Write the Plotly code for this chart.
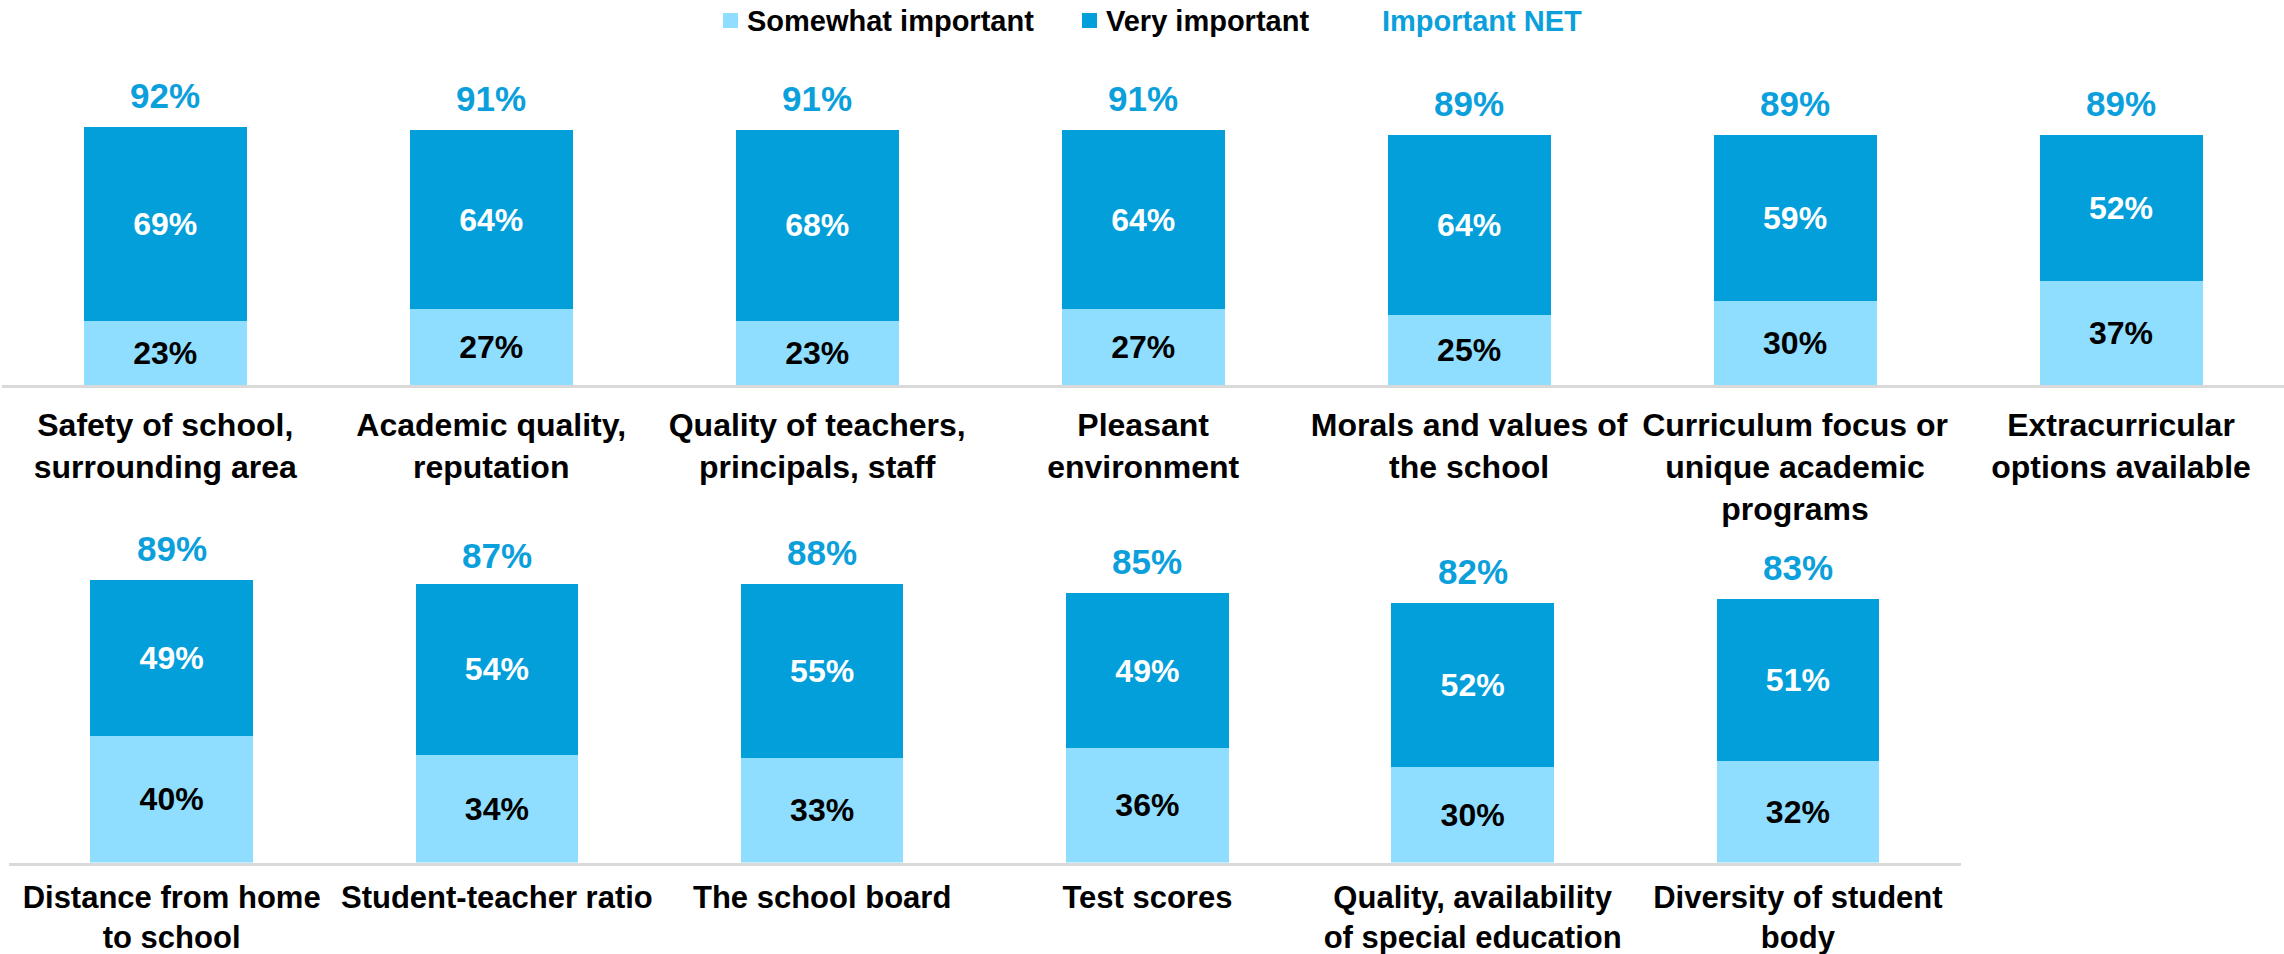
import plotly.graph_objects as go

# ---- data ----
cats_top = [
    "Safety of school,<br>surrounding area",
    "Academic quality,<br>reputation",
    "Quality of teachers,<br>principals, staff",
    "Pleasant<br>environment",
    "Morals and values of<br>the school",
    "Curriculum focus or<br>unique academic<br>programs",
    "Extracurricular<br>options available",
]
somewhat_top = [23, 27, 23, 27, 25, 30, 37]
very_top = [69, 64, 68, 64, 64, 59, 52]
net_top = [92, 91, 91, 91, 89, 89, 89]

cats_bot = [
    "Distance from home<br>to school",
    "Student-teacher ratio",
    "The school board",
    "Test scores",
    "Quality, availability<br>of special education",
    "Diversity of student<br>body",
]
somewhat_bot = [40, 34, 33, 36, 30, 32]
very_bot = [49, 54, 55, 49, 52, 51]
net_bot = [89, 87, 88, 85, 82, 83]

series_names = ["Somewhat important", "Very important", "Important NET"]

LIGHT = "#8FDEFF"
DARK = "#039FDB"
NETC = "#0BA0DC"
FONT = "Liberation Sans, Arial, sans-serif"

W, H = 2284, 954

fig = go.Figure()

def pct(vals):
    return [f"{v}%" for v in vals]

def add_bars(cats, vals, color, tcolor, name, xa, ya):
    fig.add_trace(go.Bar(x=cats, y=vals, name=name,
                         marker=dict(color=color, line=dict(width=0)),
                         text=pct(vals), textposition="inside", insidetextanchor="middle",
                         textfont=dict(family=FONT, size=32, color=tcolor, weight="bold"),
                         xaxis=xa, yaxis=ya, showlegend=False, hoverinfo="x+y"))

add_bars(cats_top, somewhat_top, LIGHT, "black", series_names[0], "x", "y")
add_bars(cats_top, very_top, DARK, "white", series_names[1], "x", "y")
add_bars(cats_bot, somewhat_bot, LIGHT, "black", series_names[0], "x2", "y2")
add_bars(cats_bot, very_bot, DARK, "white", series_names[1], "x2", "y2")

annotations = []
for c, v in zip(cats_top, net_top):
    annotations.append(dict(x=c, y=v, xref="x", yref="y", text=f"{v}%", showarrow=False,
                            yanchor="bottom", yshift=10,
                            font=dict(family=FONT, size=35, color=NETC, weight="bold")))
for c, v in zip(cats_bot, net_bot):
    annotations.append(dict(x=c, y=v, xref="x2", yref="y2", text=f"{v}%", showarrow=False,
                            yanchor="bottom", yshift=10,
                            font=dict(family=FONT, size=35, color=NETC, weight="bold")))

# ---- manual legend (squares + texts) ----
ly = 1 - 20.5 / H
legend_items = [
    (series_names[0], LIGHT, 723, 745, "black"),
    (series_names[1], DARK, 1082, 1104, "black"),
    (series_names[2], None, None, 1380, NETC),
]
shapes = []
for name, col, sx, tx, tcol in legend_items:
    if col is not None:
        shapes.append(dict(type="rect", xref="paper", yref="paper",
                           x0=sx / W, x1=(sx + 15) / W, y0=1 - 28 / H, y1=1 - 13 / H,
                           fillcolor=col, line=dict(width=0)))
    annotations.append(dict(x=tx / W, y=ly, xref="paper", yref="paper", text=name,
                            showarrow=False, xanchor="left", yanchor="middle",
                            font=dict(family=FONT, size=29, color=tcol, weight="bold")))

xcommon = dict(type="category", showline=True, linecolor="#D9D9D9", linewidth=3,
               showgrid=False, zeroline=False, ticks="outside",
               tickcolor="rgba(0,0,0,0)", automargin=False,
               fixedrange=True)
ycommon = dict(range=[0, 100], showgrid=False, zeroline=False, showticklabels=False,
               showline=False, ticks="", fixedrange=True, automargin=False)

fig.update_layout(
    template="none",
    width=W, height=H, autosize=False,
    margin=dict(l=0, r=0, t=0, b=0, pad=0),
    paper_bgcolor="white", plot_bgcolor="white",
    barmode="stack", bargap=0.5,
    xaxis=dict(xcommon, domain=[0.001, 1.0], anchor="y", range=[-0.5, 6.5], ticklen=10,
               tickfont=dict(family=FONT, size=32, color="black", weight="bold")),
    yaxis=dict(ycommon, domain=[1 - 385 / H, 1 - 104.6 / H], anchor="x"),
    xaxis2=dict(xcommon, domain=[9 / W, 1960.5 / W], anchor="y2", range=[-0.5, 5.5], ticklen=5,
                tickfont=dict(family=FONT, size=31, color="black", weight="bold")),
    yaxis2=dict(ycommon, domain=[1 - 862.5 / H, 1 - 545.5 / H], anchor="x2"),
    annotations=annotations,
    shapes=shapes,
    showlegend=False,
)

fig.write_html("out.html", config={"displayModeBar": False},
               post_script="document.body.style.margin='0';document.body.style.overflow='hidden';")
